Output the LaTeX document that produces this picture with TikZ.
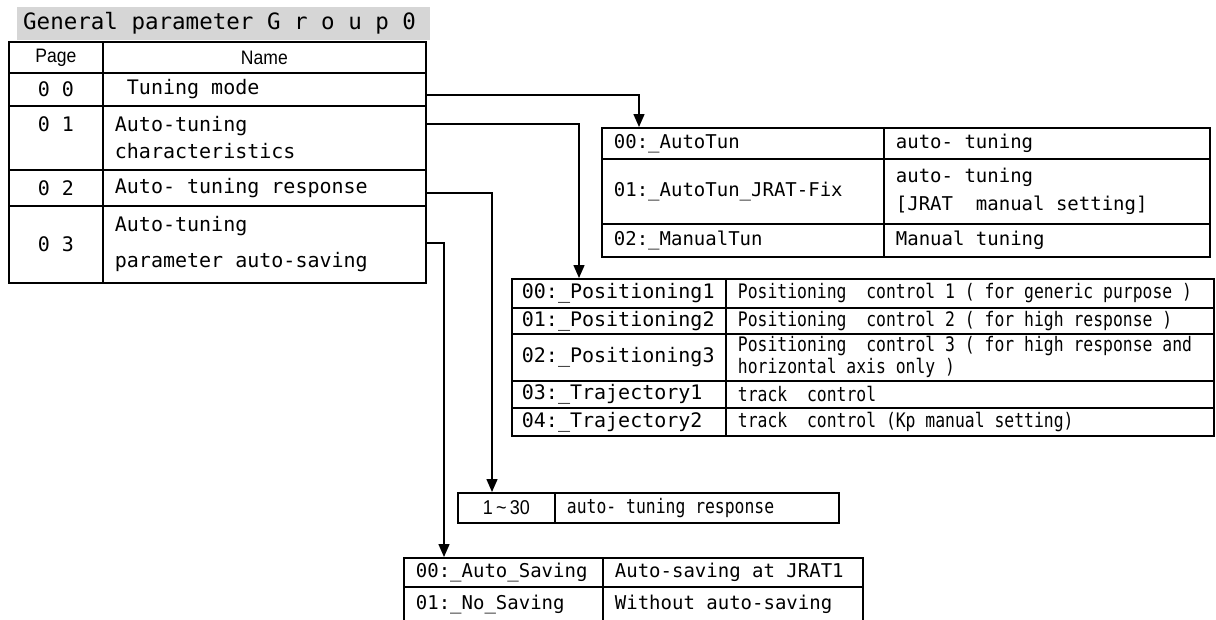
\documentclass[tikz,border=0pt]{standalone}
\usepackage{fontspec}
\newfontfamily\tmono{DejaVu Sans Mono}
\newfontfamily\tnarrow[FakeStretch=0.82]{DejaVu Sans Mono}
\newfontfamily\tsans[FakeStretch=0.9]{Liberation Sans}
% one monospace cell of blank
\newcommand\sk{\hspace{\fontcharwd\font`\0}}
\usetikzlibrary{arrows.meta}
\tikzset{
  linkarrow/.style={-{Triangle[length=13pt,width=11pt]}, line width=1.5pt},
  gridcell/.style={draw, line width=1.8pt, anchor=north west, inner sep=0pt, align=center},
  textcell/.style={draw, line width=1.8pt, anchor=north west, inner xsep=12pt, inner ysep=0pt, align=left},
  bigfont/.style={font=\tmono\fontsize{20}{27}\selectfont},
  widefont/.style={font=\tmono\fontsize{20}{36}\selectfont},
  midfont/.style={font=\tmono\fontsize{19}{28}\selectfont},
  smallfont/.style={font=\tnarrow\fontsize{20}{22}\selectfont},
  headfont/.style={font=\tsans\fontsize{19.5}{22}\selectfont},
  titlebar/.style={fill=black!16, anchor=north west, inner xsep=6pt, inner ysep=0pt, minimum height=33pt, text width=401pt, align=left, font=\tmono\fontsize{22.5}{27}\selectfont}
}

\begin{document}
\begin{tikzpicture}[x=1pt, y=-1pt]
  \useasboundingbox (0,0) rectangle (1216,619);
  % parameter table
  \node[titlebar] (title) at (17,7) {General\sk parameter\sk G\sk r\sk o\sk u\sk p\sk 0};
  \node[gridcell, headfont, minimum width=94pt, minimum height=31pt] (hpage) at (8,41) {Page};
  \node[gridcell, headfont, minimum width=323pt, minimum height=31pt] (hname) at (102,41) {Name};
  \node[gridcell, bigfont, minimum width=94pt, minimum height=33pt] (p00) at (8,72) {0\sk 0};
  \node[textcell, bigfont, text width=299pt, minimum height=33pt] (n00) at (102,72) {\sk Tuning\sk mode};
  \node[gridcell, bigfont, minimum width=94pt, minimum height=64pt] (p01) at (8,105) {0\sk 1\\\mbox{}};
  \node[textcell, bigfont, text width=299pt, minimum height=64pt] (n01) at (102,105) {Auto-tuning\\characteristics};
  \node[gridcell, bigfont, minimum width=94pt, minimum height=36pt] (p02) at (8,169) {0\sk 2};
  \node[textcell, bigfont, text width=299pt, minimum height=36pt] (n02) at (102,169) {Auto-\sk tuning\sk response};
  \node[gridcell, bigfont, minimum width=94pt, minimum height=77pt] (p03) at (8,205) {0\sk 3};
  \node[textcell, widefont, text width=299pt, minimum height=77pt] (n03) at (102,205) {Auto-tuning\\parameter\sk auto-saving};

  % tuning mode
  \node[textcell, midfont, text width=258pt, minimum height=31pt] (tun0) at (601,127) {00:\_AutoTun};
  \node[textcell, midfont, text width=302pt, minimum height=31pt] (tund0) at (883,127) {auto-\sk tuning};
  \node[textcell, midfont, text width=258pt, minimum height=65pt] (tun1) at (601,158) {01:\_AutoTun\_JRAT-Fix};
  \node[textcell, midfont, text width=302pt, minimum height=65pt] (tund1) at (883,158) {auto-\sk tuning\\{}[JRAT\sk\sk manual\sk setting]};
  \node[textcell, midfont, text width=258pt, minimum height=33pt] (tun2) at (601,223) {02:\_ManualTun};
  \node[textcell, midfont, text width=302pt, minimum height=33pt] (tund2) at (883,223) {Manual\sk tuning};

  % characteristics
  \node[textcell, bigfont, inner xsep=10pt, text width=194pt, minimum height=29pt] (pos0) at (511,278) {00:\_Positioning1};
  \node[textcell, smallfont, text width=464pt, minimum height=29pt] (posd0) at (725,278) {Positioning\sk\sk control\sk 1\sk (\sk for\sk generic\sk purpose\sk )};
  \node[textcell, bigfont, inner xsep=10pt, text width=194pt, minimum height=26pt] (pos1) at (511,307) {01:\_Positioning2};
  \node[textcell, smallfont, text width=464pt, minimum height=26pt] (posd1) at (725,307) {Positioning\sk\sk control\sk 2\sk (\sk for\sk high\sk response\sk )};
  \node[textcell, bigfont, inner xsep=10pt, text width=194pt, minimum height=47pt] (pos2) at (511,333) {02:\_Positioning3};
  \node[textcell, smallfont, text width=464pt, minimum height=47pt] (posd2) at (725,333) {Positioning\sk\sk control\sk 3\sk (\sk for\sk high\sk response\sk and\\horizontal\sk axis\sk only\sk )};
  \node[textcell, bigfont, inner xsep=10pt, text width=194pt, minimum height=27pt] (pos3) at (511,380) {03:\_Trajectory1};
  \node[textcell, smallfont, text width=464pt, minimum height=27pt] (posd3) at (725,380) {track\sk\sk control};
  \node[textcell, bigfont, inner xsep=10pt, text width=194pt, minimum height=28pt] (pos4) at (511,407) {04:\_Trajectory2};
  \node[textcell, smallfont, text width=464pt, minimum height=28pt] (posd4) at (725,407) {track\sk\sk control\sk (Kp\sk manual\sk setting)};

  % response
  \node[gridcell, font=\tsans\fontsize{20}{24}\selectfont, minimum width=97pt, minimum height=30pt] (resp0) at (457,492) {1\,\textasciitilde\,30};
  \node[textcell, smallfont, text width=260pt, minimum height=30pt] (respd) at (554,492) {auto-\sk tuning\sk response};

  % auto-saving
  \node[textcell, midfont, text width=175pt, minimum height=29pt] (sav0) at (403,557) {00:\_Auto\_Saving};
  \node[textcell, midfont, text width=236pt, minimum height=29pt] (savd0) at (602,557) {Auto-saving\sk at\sk JRAT1};
  \node[textcell, midfont, text width=175pt, minimum height=35pt] (sav1) at (403,586) {01:\_No\_Saving};
  \node[textcell, midfont, text width=236pt, minimum height=35pt] (savd1) at (602,586) {Without\sk auto-saving};

  % connectors
  \draw[linkarrow] ([yshift=-5.5pt]n00.east) -| ([xshift=38pt]tun0.north west);
  \draw[linkarrow] ([yshift=14pt]n01.east) -| ([xshift=68pt]pos0.north west);
  \draw[linkarrow] ([yshift=-5pt]n02.east) -| ([xshift=35pt]resp0.north west);
  \draw[linkarrow] ([yshift=1.5pt]n03.east) -| ([xshift=41pt]sav0.north west);
\end{tikzpicture}
\end{document}
